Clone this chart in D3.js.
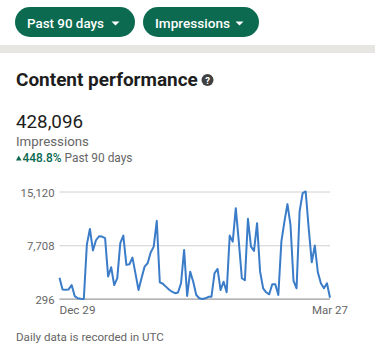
<!DOCTYPE html>
<html>
<head>
<meta charset="utf-8">
<script src="https://cdn.jsdelivr.net/npm/d3@7"></script>
<style>
  body { margin: 0; background: #fff; font-family: Roboto, "Noto Sans", sans-serif; }
  svg { display: block; }
</style>
</head>
<body>
<div id="chart"></div>
<script>
/* Chart data. */
const days = 90;
const startLabel = 'Dec 29';
const endLabel = 'Mar 27';
const yTicks = [296, 7708, 15120];
const impressions = [
  3239, 1600, 1560, 1620, 2230, 700, 400, 330, 296, 7800,
  9950, 7000, 8400, 8950, 8900, 8700, 3400, 4675, 2230, 3150,
  7990, 9040, 5000, 5090, 6000, 3800, 1540, 3200, 4760, 5230,
  6700, 7520, 11070, 2600, 2400, 2000, 1600, 1300, 1100, 1200,
  2500, 7065, 710, 4067, 2686, 849, 400, 300, 393, 600,
  614, 3846, 4440, 1539, 2686, 1222, 9041, 8212, 12826, 8212,
  3156, 2879, 11349, 7521, 6927, 10754, 4067, 1774, 1222, 945,
  2327, 2327, 849, 8212, 10975, 13378, 10519, 2783, 1774, 12384,
  14898, 15120, 10000, 5366, 7660, 3984, 2465, 1774, 2465, 476
];
const buttons = ['Past 90 days', 'Impressions'];

const W = 375, H = 353;
const green = '#0b6a4f';

const svg = d3.select('#chart').append('svg')
  .attr('width', W)
  .attr('height', H);

svg.append('rect').attr('width', W).attr('height', H).attr('fill', '#fff');

// shrink or grow a text's font so it spans the width seen in the reference
function fit(sel, w) {
  const size = +sel.attr('font-size');
  const len = sel.node().getComputedTextLength();
  if (len > 0) sel.attr('font-size', (size * w / len).toFixed(2));
  return sel;
}

// filter pills
const pillX = [15, 143];
const pillW = [120, 116];
const pillTextW = [77, 75];
buttons.forEach((label, i) => {
  const g = svg.append('g').attr('transform', `translate(${pillX[i]},7)`);
  g.append('rect')
    .attr('width', pillW[i])
    .attr('height', 30)
    .attr('rx', 15)
    .attr('fill', green);
  const t = g.append('text')
    .attr('x', 12)
    .attr('y', 20.5)
    .attr('fill', '#fff')
    .attr('font-size', 14.5)
    .attr('font-weight', 500)
    .text(label);
  fit(t, pillTextW[i]);
  const cx = pillW[i] - 19.5;
  g.append('path')
    .attr('d', `M${cx - 4},14.5 L${cx + 4},14.5 L${cx},18.5 Z`)
    .attr('fill', '#fff');
});

// separator band
svg.append('rect')
  .attr('x', 0).attr('y', 45)
  .attr('width', W).attr('height', 8)
  .attr('fill', '#e8e6e2');

// header
fit(svg.append('text')
  .attr('x', 16).attr('y', 86)
  .attr('font-size', 19)
  .attr('font-weight', 700)
  .attr('fill', '#1d1d1d')
  .text('Content performance'), 182);

const help = svg.append('g').attr('transform', 'translate(207.5,80)');
help.append('circle').attr('r', 6).attr('fill', '#404040');
help.append('text')
  .attr('y', 3.5)
  .attr('text-anchor', 'middle')
  .attr('font-size', 9.5)
  .attr('font-weight', 700)
  .attr('fill', '#fff')
  .text('?');

fit(svg.append('text')
  .attr('x', 16).attr('y', 128)
  .attr('font-size', 19)
  .attr('fill', '#1d1d1d')
  .text('428,096'), 67);

fit(svg.append('text')
  .attr('x', 16).attr('y', 146)
  .attr('font-size', 13.5)
  .attr('fill', '#666')
  .text('Impressions'), 73);

svg.append('path')
  .attr('d', 'M16,160.5 L21.5,160.5 L18.75,155.5 Z')
  .attr('fill', green);
const change = svg.append('text')
  .attr('x', 22.5).attr('y', 162)
  .attr('font-size', 13)
  .attr('fill', '#666');
change.append('tspan').attr('fill', green).attr('font-weight', 500).text('448.8%');
change.append('tspan').text(' Past 90 days');
fit(change, 110);

// plot
const x = d3.scaleLinear()
  .domain([0, days - 1])
  .range([59.5, 330]);

const y = d3.scaleLinear()
  .domain([yTicks[0], yTicks[2]])
  .range([299, 191.5]);

const gY = svg.append('g')
  .attr('transform', `translate(${x.range()[0]},0)`)
  .call(d3.axisLeft(y).tickValues(yTicks).tickSize(-(x.range()[1] - x.range()[0]))
    .tickFormat(d3.format(',')).tickPadding(5));
gY.select('.domain').remove();
gY.selectAll('.tick line').attr('stroke', '#d0d0d0');
gY.selectAll('.tick text')
  .attr('font-family', 'Roboto, sans-serif')
  .attr('font-size', 12)
  .attr('fill', '#666')
  .attr('dy', '0.4em');
fit(gY.select('.tick:last-of-type text'), 34);
gY.selectAll('.tick text').attr('font-size', gY.select('.tick:last-of-type text').attr('font-size'));

// baseline
svg.append('line')
  .attr('x1', x.range()[0]).attr('x2', x.range()[1])
  .attr('y1', y(yTicks[0])).attr('y2', y(yTicks[0]))
  .attr('stroke', '#999');

const line = d3.line()
  .x((d, i) => x(i))
  .y((d) => y(d));

svg.append('path')
  .datum(impressions)
  .attr('d', line)
  .attr('fill', 'none')
  .attr('stroke', '#3a7cc8')
  .attr('stroke-width', 2)
  .attr('stroke-linejoin', 'round');

fit(svg.append('text')
  .attr('x', x(0)).attr('y', 314)
  .attr('font-size', 12.5)
  .attr('fill', '#666')
  .text(startLabel), 36);
fit(svg.append('text')
  .attr('x', x(days - 1)).attr('y', 314)
  .attr('text-anchor', 'middle')
  .attr('font-size', 12.5)
  .attr('fill', '#666')
  .text(endLabel), 36);

fit(svg.append('text')
  .attr('x', 16).attr('y', 341)
  .attr('font-size', 12.5)
  .attr('fill', '#666')
  .text('Daily data is recorded in UTC'), 148);
</script>
</body>
</html>
